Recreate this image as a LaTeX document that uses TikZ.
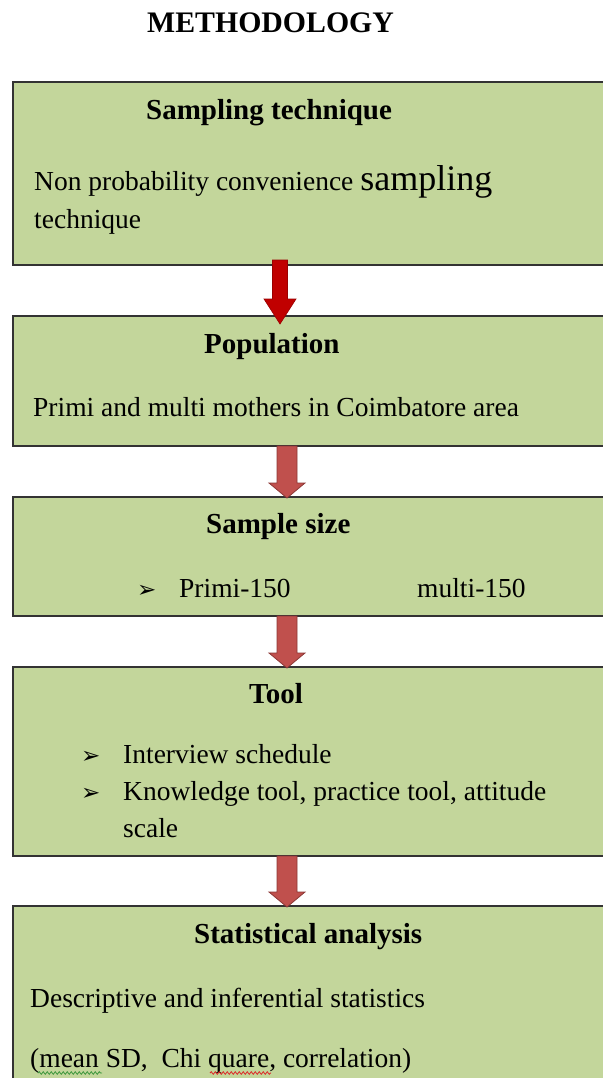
\documentclass[tikz,border=0pt]{standalone}
\usepackage{fontspec}
\setmainfont{Liberation Serif}
\newfontfamily\symfont{DejaVu Sans}
\usetikzlibrary{calc,decorations.pathmorphing}
\definecolor{boxgreen}{HTML}{C3D69B}
\definecolor{boxline}{HTML}{333333}
\definecolor{arrowred}{HTML}{C00000}
\definecolor{arrowredline}{HTML}{9A0000}
\definecolor{arrowrose}{HTML}{C0504D}
\definecolor{arrowroseline}{HTML}{8C3836}
\begin{document}
\begin{tikzpicture}[x=1pt,y=-1pt,
  box/.style={draw=boxline, line width=1.7pt, fill=boxgreen, anchor=north west,
    minimum width=600pt, inner sep=0pt, outer sep=0pt},
  txt/.style={anchor=base west, inner sep=0pt, font=\fontsize{27.5}{33}\selectfont},
  ttl/.style={anchor=base west, inner sep=0pt, font=\fontsize{29}{34}\selectfont\bfseries},
  bul/.style={anchor=base west, inner sep=0pt, font=\symfont\fontsize{23}{26}\selectfont},
  blockarrow/.style n args={3}{to path={let \p1=(\tikztostart), \p2=(\tikztotarget) in
    (\x1-#1,\y1) -- (\x1+#1,\y1) -- (\x1+#1,\y2+#3) -- (\x1+#2,\y2+#3) -- (\x1,\y2)
    -- (\x1-#2,\y2+#3) -- (\x1-#1,\y2+#3) -- cycle}},
  darkarrow/.style={fill=arrowred, draw=arrowredline, line width=0.6pt, blockarrow={7.5pt}{16pt}{25pt}},
  rosearrow/.style={fill=arrowrose, draw=arrowroseline, line width=0.8pt, blockarrow={10pt}{18pt}{15pt}},
  squig/.style={decorate, decoration={snake, amplitude=1.3pt, segment length=4pt}, line width=0.8pt}
]
\useasboundingbox (0,0) rectangle (602,1078);
\fill[white] (0,0) rectangle (602,1078);

% title
\node[ttl, font=\fontsize{29.8}{34}\selectfont\bfseries] (title) at (147,33) {METHODOLOGY};

% boxes
\node[box, minimum height=183pt] (b1) at (13,82) {};
\node[box, minimum height=130pt] (b2) at (13,316) {};
\node[box, minimum height=119pt] (b3) at (13,497) {};
\node[box, minimum height=189pt] (b4) at (13,667) {};
\node[box, minimum height=200pt] (b5) at (13,906) {};

% arrow axes
\coordinate (ax1) at (280,0);
\coordinate (ax2) at (287,0);

% connectors
\draw[darkarrow] ([yshift=5pt]b1.south -| ax1) to ([yshift=-8pt]b2.north -| ax1);
\draw[rosearrow] ([yshift=0pt]b2.south -| ax2) to ([yshift=-1pt]b3.north -| ax2);
\draw[rosearrow] ([yshift=0pt]b3.south -| ax2) to ([yshift=-1pt]b4.north -| ax2);
\draw[rosearrow] ([yshift=0pt]b4.south -| ax2) to ([yshift=-1pt]b5.north -| ax2);

% box 1
\node[ttl] (t1) at (146,120) {Sampling technique};
\node[txt] (s1a) at (34,190) {Non probability convenience {\fontsize{36}{40}\selectfont sampling}};
\node[txt] (s1b) at (34,228) {technique};

% box 2
\node[ttl] (t2) at (204,353) {Population};
\node[txt] (s2a) at (33,416) {Primi and multi mothers in Coimbatore area};

% box 3
\node[ttl] (t3) at (206,533) {Sample size};
\node[bul] (bu3) at (137,597) {➢};
\node[txt] (s3a) at (179,597) {Primi-150};
\node[txt] (s3b) at (417,597) {multi-150};

% box 4
\node[ttl] (t4) at (249,703) {Tool};
\node[bul] (bu4a) at (81,763) {➢};
\node[bul] (bu4b) at (81,800) {➢};
\node[txt] (s4a) at (123,763) {Interview schedule};
\node[txt] (s4b) at (123,800) {Knowledge tool, practice tool, attitude};
\node[txt] (s4c) at (123,837) {scale};

% box 5
\node[ttl] (t5) at (194,943) {Statistical analysis};
\node[txt] (s5a) at (30,1007) {Descriptive and inferential statistics};
\node[txt] (s5b) at (30,1067) {(mean SD,\ \ Chi quare, correlation)};
\draw[squig, draw={rgb,255:red,60;green,150;blue,60}] (38,1073) -- (102,1073);
\draw[squig, draw={rgb,255:red,220;green,40;blue,40}] (210,1073) -- (271,1073);
\end{tikzpicture}
\end{document}
